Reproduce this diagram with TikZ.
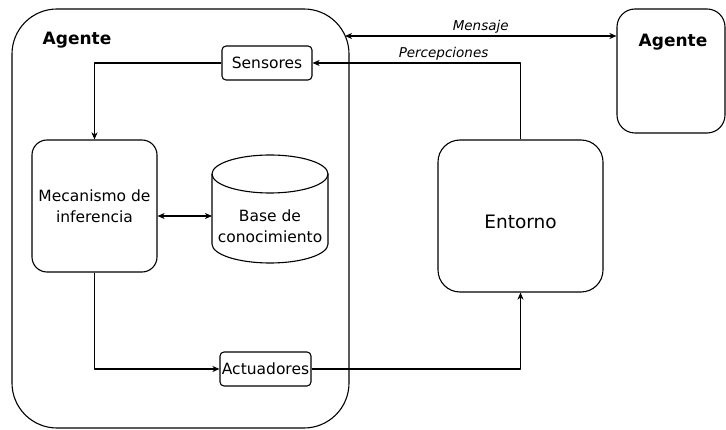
\documentclass[tikz,border=0pt]{standalone}
\usepackage{fontspec}
\setmainfont{DejaVu Sans}
\usetikzlibrary{arrows.meta}

\begin{document}
\begin{tikzpicture}[x=1pt,y=-1pt,line width=1.1pt,line join=round,
  txt/.style={align=center,inner sep=0pt,font=\fontsize{15.5}{21}\selectfont},
  box/.style={draw,rounded corners=#1,txt},
  flow/.style={-{Stealth[length=7pt,width=6pt,inset=2pt]}},
  both/.style={{Stealth[length=7pt,width=6pt,inset=2pt]}-{Stealth[length=7pt,width=6pt,inset=2pt]}},
  lbl/.style={font=\fontsize{13.5}{16}\selectfont\itshape,inner sep=2pt},
  title/.style={font=\fontsize{17}{20}\selectfont\bfseries}]
  \useasboundingbox (0,0) rectangle (726,430);
  % agente principal
  \node[box=45pt,minimum width=337pt,minimum height=419pt] (agente) at (180.5,218.5) {};
  \node[title] (agtxt) at (77,40) {Agente};
  \node[box=4pt,minimum width=90pt,minimum height=34pt] (sens) at (267,63) {Sensores};
  \node[box=15pt,minimum width=125pt,minimum height=132pt] (mec) at (94.5,206) {Mecanismo de\\inferencia};
  % base de conocimiento (cilindro)
  \coordinate (base) at (270,209); \coordinate (basew) at (212,216);
  \draw (270,174) ellipse [x radius=58,y radius=19];
  \draw (212,174) -- (212,244) arc[start angle=180,end angle=0,x radius=58,y radius=19] -- (328,174);
  \node[txt] (basetxt) at (270,226) {Base de\\conocimiento};
  \node[box=4pt,minimum width=91pt,minimum height=34pt] (act) at (265.5,369) {Actuadores};
  % entorno y otro agente
  \node[box=22pt,minimum width=165pt,minimum height=152pt] (ent) at (520.5,216) {};
  \node[font=\fontsize{18.5}{22}\selectfont] (enttxt) at (520.5,222) {Entorno};
  \node[box=18pt,minimum width=108pt,minimum height=124pt] (agente2) at (671,71) {};
  \node[title] (agtxt2) at (673,42) {Agente};
  \coordinate (msgA) at (345,36);
  % conexiones
  \draw[flow] (sens.west) -| (mec.north);
  \draw[both] ([yshift=-10pt]mec.east) -- ([yshift=-10pt]mec.east -| basew);
  \draw[flow] (mec.south) |- (act.west);
  \draw[flow] (act.east) -| (ent.south);
  \draw[flow] (ent.north) |- (sens.east) node[lbl,pos=0.685,above] {Percepciones};
  \draw[both] (msgA) -- (msgA -| agente2.west) node[lbl,midway,above] {Mensaje};
\end{tikzpicture}
\end{document}
